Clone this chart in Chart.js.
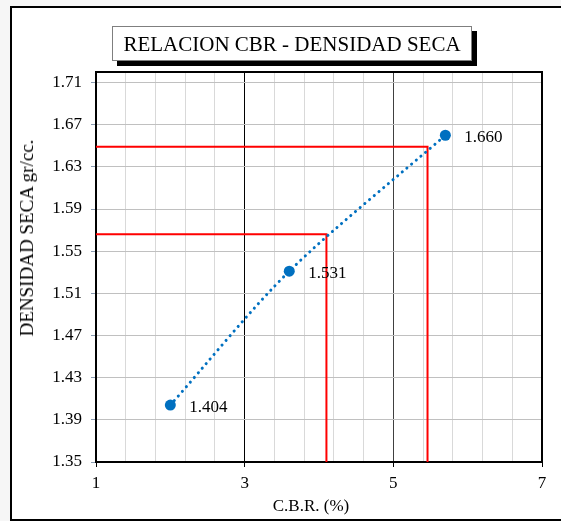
<!DOCTYPE html>
<html lang="es">
<head>
  <meta charset="UTF-8" />
  <title>Relacion CBR - Densidad Seca</title>
  <script src="https://cdn.jsdelivr.net/npm/chart.js"></script>
  <style>
    body {
      margin: 0;
      background: #f6f6f6;
      font-family: "Liberation Serif", "Times New Roman", serif;
    }
    .wrap {
      position: relative;
      width: 561px;
      height: 521px;
      overflow: hidden;
    }
    .frame {
      position: absolute;
      left: 10px;
      top: 6px;
      width: 560px;
      height: 511px;
      border: 2px solid #000;
      background: #fff;
    }
    canvas {
      position: absolute;
      left: 0;
      top: 0;
    }
    .title {
      position: absolute;
      left: 112px;
      top: 26px;
      width: 358px;
      height: 33px;
      line-height: 34px;
      border: 1px solid #7f7f7f;
      background: #fff;
      box-shadow: 5px 5px 0 #000;
      text-align: center;
      font-size: 21px;
      color: #000;
    }
    .ytitle {
      position: absolute;
      left: 27px;
      top: 238px;
      transform: translate(-50%, -50%) rotate(-90deg);
      white-space: nowrap;
      font-size: 19px;
    }
    .xtitle {
      position: absolute;
      left: 311px;
      top: 506px;
      transform: translate(-50%, -50%);
      white-space: nowrap;
      font-size: 17px;
    }
  </style>
</head>
<body>
  <div class="wrap">
    <div class="frame"></div>
    <canvas id="cbrChart" width="561" height="521"></canvas>
    <div class="title">RELACION CBR - DENSIDAD SECA</div>
    <div class="ytitle">DENSIDAD SECA gr/cc.</div>
    <div class="xtitle">C.B.R. (%)</div>
  </div>

  <script>
    // puntos del ensayo
    const cbr = [2.0, 3.6, 5.7];
    const densidad = [1.404, 1.531, 1.660];

    // lineas rojas (lectura de CBR)
    const rojaA_x = [1, 5.46, 5.46];
    const rojaA_y = [1.649, 1.649, 1.35];
    const rojaB_x = [1, 4.10, 4.10];
    const rojaB_y = [1.566, 1.566, 1.35];

    // ejes
    const xLabels = [1, 3, 5, 7];
    const xGrid = [1, 1.4, 1.8, 2.2, 2.6, 3, 3.4, 3.8, 4.2, 4.6, 5, 5.4, 5.8, 6.2, 6.6, 7];
    const xMajor = [3, 5];
    const yTicks = [1.35, 1.39, 1.43, 1.47, 1.51, 1.55, 1.59, 1.63, 1.67, 1.71];

    const toPts = (xs, ys) => xs.map((x, i) => ({ x: x, y: ys[i] }));
    const font = { family: "'Liberation Serif', 'Times New Roman', serif", size: 17 };

    const plotFrame = {
      id: 'plotFrame',
      beforeDatasetsDraw(chart) {
        const a = chart.chartArea;
        const ctx = chart.ctx;
        ctx.save();
        ctx.strokeStyle = '#000';
        ctx.lineWidth = 2;
        ctx.strokeRect(a.left, a.top, a.right - a.left, a.bottom - a.top);
        ctx.restore();
      }
    };

    const pointLabels = {
      id: 'pointLabels',
      afterDatasetsDraw(chart) {
        const meta = chart.getDatasetMeta(0);
        const ctx = chart.ctx;
        ctx.save();
        ctx.font = font.size + 'px ' + font.family;
        ctx.fillStyle = '#000';
        ctx.textBaseline = 'middle';
        ctx.textAlign = 'left';
        meta.data.forEach((pt, i) => {
          ctx.fillText(densidad[i].toFixed(3), pt.x + 19, pt.y + 2);
        });
        ctx.restore();
      }
    };

    new Chart(document.getElementById('cbrChart'), {
      type: 'scatter',
      data: {
        datasets: [
          {
            data: toPts(cbr, densidad),
            showLine: true,
            borderColor: '#0070C0',
            backgroundColor: '#0070C0',
            borderWidth: 3,
            borderDash: [0.1, 6],
            borderCapStyle: 'round',
            tension: 0.3,
            pointRadius: 5.5,
            pointBorderWidth: 0
          },
          {
            data: toPts(rojaA_x, rojaA_y),
            showLine: true,
            borderColor: '#FF0000',
            borderWidth: 2,
            tension: 0,
            pointRadius: 0
          },
          {
            data: toPts(rojaB_x, rojaB_y),
            showLine: true,
            borderColor: '#FF0000',
            borderWidth: 2,
            tension: 0,
            pointRadius: 0
          }
        ]
      },
      options: {
        responsive: false,
        animation: false,
        layout: { padding: { left: 12, top: 72, right: 19, bottom: 10 } },
        plugins: {
          legend: { display: false },
          tooltip: { enabled: false }
        },
        scales: {
          x: {
            type: 'linear',
            min: 1,
            max: 7,
            afterBuildTicks: s => { s.ticks = xGrid.map(v => ({ value: v })); },
            afterFit: s => { s.height = 49; },
            ticks: {
              font: font,
              color: '#000',
              padding: 6,
              maxRotation: 0,
              autoSkip: false,
              callback: v => xLabels.includes(v) ? String(v) : ''
            },
            grid: {
              color: c => c.tick.value === 3 ? '#000' : (c.tick.value === 5 ? '#404040' : '#d9d9d9'),
              tickColor: c => xLabels.includes(c.tick.value) ? '#000' : 'rgba(0,0,0,0)',
              tickLength: 5
            },
            border: { color: '#000', width: 2 }
          },
          y: {
            type: 'linear',
            min: 1.35,
            max: 1.72,
            afterBuildTicks: s => { s.ticks = yTicks.map(v => ({ value: v })); },
            afterFit: s => { s.width = 84; },
            ticks: {
              font: font,
              color: '#000',
              padding: 9,
              callback: v => v.toFixed(2)
            },
            grid: {
              color: '#c0c0c0',
              tickColor: '#8a9bb0',
              tickLength: 5
            },
            border: { color: '#0d1a2b', width: 2 }
          }
        }
      },
      plugins: [plotFrame, pointLabels]
    });
  </script>
</body>
</html>
